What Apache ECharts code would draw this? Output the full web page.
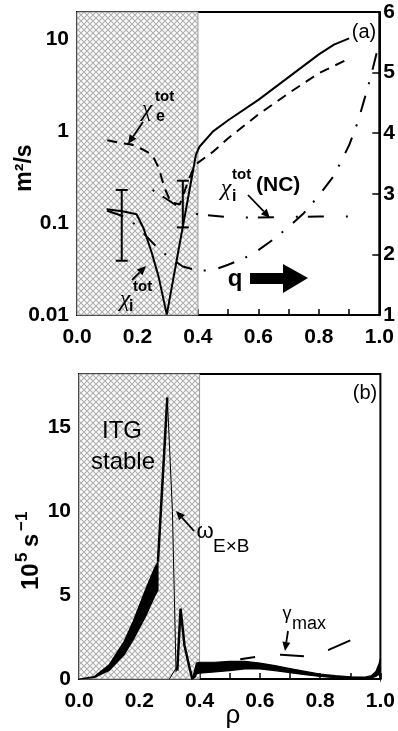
<!DOCTYPE html>
<html><head><meta charset="utf-8">
<script src="https://cdn.jsdelivr.net/npm/echarts@6/dist/echarts.min.js"></script>
<style>html,body{margin:0;padding:0;background:#fff}#c{width:398px;height:731px}</style>
</head><body><div id="c"></div>
<script>
// ---------- data: panel (a) ----------
const rhoTickLabels = ['0.0','0.2','0.4','0.6','0.8','1.0'];
const chiLogTickLabels = ['0.01','0.1','1','10'];
const qTickValues = [1,2,3,4,5,6];
// chi_i^tot (solid, left log axis)
const chiITot = [[0.098,0.142],[0.15,0.135],[0.197,0.125],[0.22,0.088],[0.247,0.048],[0.27,0.026],[0.297,0.0101],[0.33,0.04],[0.362,0.15],[0.393,0.55],[0.405,0.68],[0.45,1.0],[0.5,1.32],[0.6,2.2],[0.7,3.9],[0.8,6.9],[0.85,8.8],[0.9,10.3]];
// chi_e^tot (dashed, left log axis)
const chiETot = [[0.1,0.8],[0.15,0.74],[0.18,0.72],[0.22,0.63],[0.25,0.55],[0.27,0.4],[0.29,0.24],[0.31,0.17],[0.34,0.16],[0.37,0.3],[0.39,0.43],[0.45,0.6],[0.5,0.84],[0.6,1.53],[0.7,2.6],[0.8,4.3],[0.9,6.2]];
// chi_i^tot (NC) (dash-dot, left log axis)
const chiINC = [[0.25,0.23],[0.3,0.18],[0.35,0.14],[0.4,0.125],[0.5,0.116],[0.6,0.115],[0.7,0.117],[0.8,0.118],[0.9,0.118]];
// q (dash-dot, right axis)
const qProfile = [[0.1,2.72],[0.17,2.6],[0.21,2.4],[0.26,2.14],[0.3,1.97],[0.35,1.8],[0.4,1.73],[0.45,1.74],[0.5,1.83],[0.55,1.93],[0.6,2.07],[0.65,2.25],[0.7,2.45],[0.75,2.68],[0.8,2.97],[0.85,3.3],[0.9,3.8],[0.93,4.2],[0.95,4.55],[0.97,4.9],[1.0,5.5]];
// error bars on chi_i: [rho, low, high]
const chiIErr = [[0.148,0.039,0.23],[0.35,0.09,0.29]];
// ---------- data: panel (b) ----------
const rateTickValues = [0,5,10,15];
const band1Rho   = [0,0.05,0.1,0.15,0.18,0.22,0.25,0.262];
const band1Upper = [0,0.14,0.85,2.25,3.45,5.3,6.6,7.0];
const band1Lower = [0,0.08,0.5,1.45,2.35,3.7,4.9,5.3];
const riseToPeak = [[0.262,7.0],[0.293,16.8]];
const omegaExB   = [[0.293,16.8],[0.31,10],[0.322,0.4]];
const smallRise  = [[0.30,0],[0.315,0.45],[0.33,0.85]];
const spike      = [[0.326,0.5],[0.337,4.2],[0.35,2.0],[0.365,0.8],[0.376,0]];
const band2Rho   = [0.376,0.385,0.39,0.40,0.45,0.5,0.55,0.6,0.65,0.7,0.75,0.8,0.85,0.9,0.95,0.97,0.985,0.995,1.0];
const band2Upper = [0.0,0.6,0.95,1.0,1.0,1.05,1.05,0.95,0.8,0.62,0.45,0.3,0.2,0.13,0.12,0.2,0.45,0.9,1.2];
const band2Lower = [0.0,0.1,0.3,0.35,0.42,0.5,0.6,0.6,0.5,0.38,0.26,0.15,0.08,0.03,0.02,0.06,0.15,0.3,0.0];
const gammaMax   = [[0.535,1.18],[0.585,1.32],[0.67,1.45],[0.75,1.35],[0.83,1.75],[0.9,2.3]];
const stableRegion = [0,0.4];

// ---------- rendering ----------
const SANS = '"Liberation Sans", Arial, Helvetica, sans-serif';
const SERIF = '"Liberation Serif", "DejaVu Serif", serif';
function hatch(){
  const s=6, c=document.createElement('canvas'); c.width=s; c.height=s;
  const g=c.getContext('2d'); g.fillStyle='#fff'; g.fillRect(0,0,s,s);
  g.strokeStyle='#b0b0b0'; g.lineWidth=1.2; g.beginPath();
  g.moveTo(-1,-1); g.lineTo(s+1,s+1); g.moveTo(s+1,-1); g.lineTo(-1,s+1); g.stroke();
  return c;
}
const pattern = {image: hatch(), repeat:'repeat'};
const chart = echarts.init(document.getElementById('c'), null, {renderer:'canvas'});
const tickLbl = {color:'#000', fontSize:21, fontWeight:'bold', fontFamily:SANS};
function xAx(gi){
  return {type:'value', gridIndex:gi, min:0, max:1, interval:0.2,
    axisLine:{show:true, lineStyle:{color:'#000', width:2}},
    axisTick:{show:true, inside:true, length:6, lineStyle:{color:'#000', width:1.5}},
    minorTick:{show:true, splitNumber:2, length:6, lineStyle:{color:'#000', width:1.5}},
    splitLine:{show:false}, minorSplitLine:{show:false},
    axisLabel:Object.assign({margin:12, formatter:v=>{const i=Math.round(v/0.2); return Math.abs(v-i*0.2)<1e-6?rhoTickLabels[i]:'';}}, tickLbl)};
}
function lineS(data, xi, yi, width, type, z){
  return {type:'line', xAxisIndex:xi, yAxisIndex:yi, data, symbol:'none', showSymbol:false,
    lineStyle:{color:'#000', width, type: type||'solid', cap:'butt'}, z: z||3, silent:true, animation:false};
}
function bandS(rho, lo, hi){
  return {type:'custom', xAxisIndex:1, yAxisIndex:2, data:[[rho[0], lo[0]]], z:3, animation:false, silent:true,
    renderItem(p, api){
      const pts=[];
      for(let i=0;i<rho.length;i++) pts.push(api.coord([rho[i],hi[i]]));
      for(let i=rho.length-1;i>=0;i--) pts.push(api.coord([rho[i],lo[i]]));
      return {type:'polygon', shape:{points:pts}, style:{fill:'#000', stroke:'#000', lineWidth:1.2}};
    }};
}
function hatchS(xi, yi){
  return {type:'line', xAxisIndex:xi, yAxisIndex:yi, data:[], z:1, silent:true,
    markArea:{silent:true, itemStyle:{color:pattern, borderColor:'#999', borderWidth:1},
      data:[[{xAxis:stableRegion[0]},{xAxis:stableRegion[1]}]]}};
}
function arrow(x1,y1,x2,y2,w){
  const a=Math.atan2(y2-y1,x2-x1), L=9, H=4;
  const bx=x2-L*Math.cos(a), by=y2-L*Math.sin(a);
  const px=-Math.sin(a)*H, py=Math.cos(a)*H;
  return [
    {type:'line', shape:{x1,y1,x2:bx,y2:by}, style:{stroke:'#000', lineWidth:w||1.8}, z:10},
    {type:'polygon', shape:{points:[[x2,y2],[bx+px,by+py],[bx-px,by-py]]}, style:{fill:'#000'}, z:10}
  ];
}
function txt(x,y,t,font,align){
  return {type:'text', x, y, z:10, style:{text:t, font, fill:'#000', align:align||'center', verticalAlign:'middle'}};
}
const option = {
  animation:false,
  backgroundColor:'#fff',
  grid:[
    {left:77, top:12, width:304, height:303, show:true, borderColor:'#000', borderWidth:2, backgroundColor:'transparent'},
    {left:79, top:374, width:304, height:305, show:true, borderColor:'#000', borderWidth:2, backgroundColor:'transparent'}
  ],
  xAxis:[xAx(0), xAx(1)],
  yAxis:[
    {type:'log', gridIndex:0, logBase:10, min:0.01, max:19.95,
     axisLine:{show:true, lineStyle:{color:'#000', width:2}},
     axisTick:{show:true, inside:true, length:7, lineStyle:{color:'#000', width:1.5}},
     splitLine:{show:false},
     axisLabel:Object.assign({margin:8, showMaxLabel:false, formatter:v=>{const l=Math.log10(v), r=Math.round(l); return Math.abs(l-r)<0.01 && r>=-2 && r<=1 ? chiLogTickLabels[r+2] : '';}}, tickLbl)},
    {type:'value', gridIndex:0, position:'right', min:qTickValues[0], max:qTickValues[qTickValues.length-1], interval:1,
     axisLine:{show:true, lineStyle:{color:'#000', width:2}},
     axisTick:{show:true, inside:true, length:7, lineStyle:{color:'#000', width:1.5}},
     splitLine:{show:false},
     axisLabel:Object.assign({margin:4, formatter:v=>qTickValues.indexOf(v)>=0?String(v):''}, tickLbl)},
    {type:'value', gridIndex:1, min:0, max:18.2, interval:5,
     axisLine:{show:true, lineStyle:{color:'#000', width:2}},
     axisTick:{show:true, inside:true, length:7, lineStyle:{color:'#000', width:1.5}},
     splitLine:{show:false},
     axisLabel:Object.assign({margin:8, showMaxLabel:false, formatter:v=>rateTickValues.indexOf(v)>=0?String(v):''}, tickLbl)}
  ],
  series:[
    hatchS(0,0),
    hatchS(1,2),
    lineS(chiITot,0,0,2,'solid'),
    lineS(chiETot,0,0,2,[10,7]),
    lineS(chiINC,0,0,2,[2,10,16,22]),
    lineS(qProfile,0,1,2,[17,12,2,13]),
    {type:'custom', xAxisIndex:0, yAxisIndex:0, data:chiIErr, z:5, silent:true, animation:false,
     encode:{x:0, y:[1,2]},
     renderItem(p, api){
       const x=api.value(0), a=api.coord([x,api.value(1)]), b=api.coord([x,api.value(2)]), w=6;
       const st={stroke:'#000', lineWidth:2};
       return {type:'group', children:[
         {type:'line', shape:{x1:a[0],y1:a[1],x2:b[0],y2:b[1]}, style:st},
         {type:'line', shape:{x1:a[0]-w,y1:a[1],x2:a[0]+w,y2:a[1]}, style:st},
         {type:'line', shape:{x1:b[0]-w,y1:b[1],x2:b[0]+w,y2:b[1]}, style:st}]};
     }},
    bandS(band1Rho, band1Lower, band1Upper),
    bandS(band2Rho, band2Lower, band2Upper),
    lineS(riseToPeak,1,2,2.5,'solid'),
    lineS(omegaExB,1,2,1,'solid'),
    lineS(smallRise,1,2,1,'solid'),
    lineS(spike,1,2,2.5,'solid'),
    lineS(gammaMax,1,2,2,[15,25,24,25,26,40])
  ],
  graphic:[
    // panel (a)
    txt(364,32,'(a)','20px '+SANS),
    txt(147,110,'χ','italic 24px '+SERIF),
    txt(155,97,'tot','bold 15px '+SANS,'left'),
    txt(156,117,'e','bold 16px '+SANS,'left'),
    ...arrow(143,122,128,144),
    txt(226,189,'χ','italic 24px '+SERIF),
    txt(232,175,'tot','bold 15px '+SANS,'left'),
    txt(232,197,'i','bold 16px '+SANS,'left'),
    txt(256,185,'(NC)','bold 21px '+SANS,'left'),
    ...arrow(248,195,270,218),
    txt(125,300,'χ','italic 24px '+SERIF),
    txt(133,287,'tot','bold 15px '+SANS,'left'),
    txt(129,307,'i','bold 16px '+SANS,'left'),
    ...arrow(132,280,146,266),
    txt(235,279,'q','bold 24px '+SANS),
    {type:'polygon', z:10, shape:{points:[[250,273],[283,273],[283,264],[308,278],[283,293],[283,284],[250,284]]}, style:{fill:'#000'}},
    {type:'text', x:25, y:168, rotation:Math.PI/2, z:10, style:{text:'m²/s', font:'bold 23px '+SANS, fill:'#000', align:'center', verticalAlign:'middle'}},
    // panel (b)
    txt(365,393,'(b)','20px '+SANS),
    txt(122,431,'ITG','24px '+SANS),
    txt(123,462,'stable','24px '+SANS),
    txt(205,532,'ω','22px '+SANS),
    txt(213,547,'E×B','19px '+SANS,'left'),
    ...arrow(194,531,176,511),
    txt(287,614,'γ','18px '+SANS),
    txt(292,624,'max','18px '+SANS,'left'),
    ...arrow(288,631,285,651),
    txt(233,716,'ρ','26px '+SANS),
    {type:'group', x:31, y:541, rotation:Math.PI/2, z:10, children:[
      {type:'text', x:-49, y:0, style:{text:'10', font:'bold 24px '+SANS, fill:'#000', align:'left', verticalAlign:'middle'}},
      {type:'text', x:-21, y:-9, style:{text:'5', font:'bold 17px '+SANS, fill:'#000', align:'left', verticalAlign:'middle'}},
      {type:'text', x:-6, y:0, style:{text:'s', font:'bold 24px '+SANS, fill:'#000', align:'left', verticalAlign:'middle'}},
      {type:'text', x:10, y:-9, style:{text:'−1', font:'bold 17px '+SANS, fill:'#000', align:'left', verticalAlign:'middle'}}
    ]}
  ]
};
chart.setOption(option);
</script>
</body></html>
